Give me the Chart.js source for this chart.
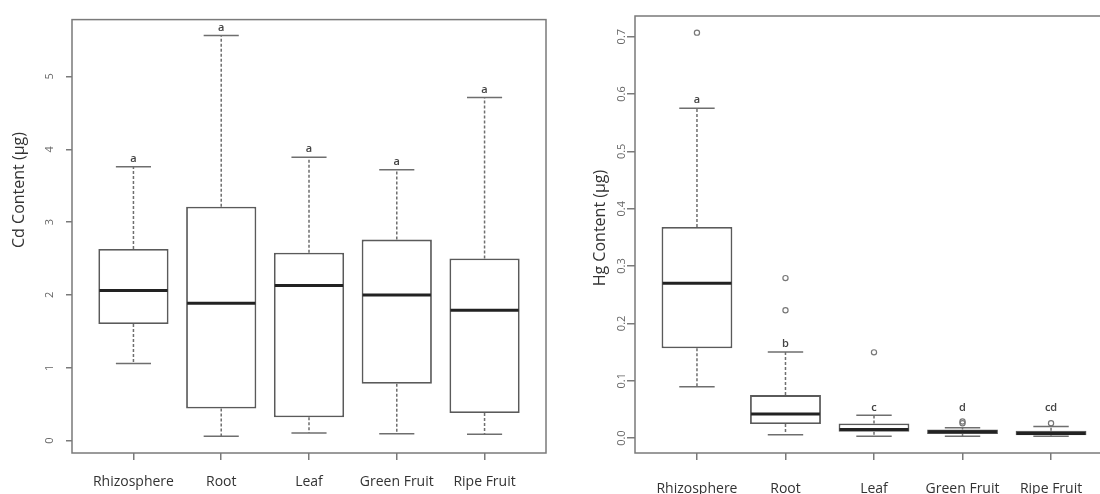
<!DOCTYPE html>
<html>
<head>
<meta charset="utf-8">
<script src="https://cdn.jsdelivr.net/npm/chart.js@4.4.0/dist/chart.umd.min.js"></script>
<style>
  body { margin: 0; background: #fff; overflow: hidden; width: 1100px; height: 494px; position: relative; }
  #cdWrap { position: absolute; left: 0; top: 0; width: 550px; height: 494px; }
  #hgWrap { position: absolute; left: 550px; top: 0; width: 580px; height: 494px; }
</style>
</head>
<body>
<div id="cdWrap"><canvas id="cdChart"></canvas></div>
<div id="hgWrap"><canvas id="hgChart"></canvas></div>
<script>
const categories = ['Rhizosphere', 'Root', 'Leaf', 'Green Fruit', 'Ripe Fruit'];

// Cd content (µg)
const cdMin    = [1.06, 0.06, 0.105, 0.095, 0.086];
const cdQ1     = [1.60, 0.44, 0.32, 0.78, 0.38];
const cdMedian = [2.06, 1.885, 2.13, 2.00, 1.79];
const cdQ3     = [2.63, 3.21, 2.58, 2.76, 2.50];
const cdMax    = [3.76, 5.56, 3.89, 3.72, 4.71];
const cdOutliers = [[], [], [], [], []];
const cdLetters = ['a', 'a', 'a', 'a', 'a'];
const cdLetterAt = [3.87, 5.67, 4.00, 3.83, 4.82];
const cdTicks = [0, 1, 2, 3, 4, 5];

// Hg content (µg)
const hgMin    = [0.0896, 0.006, 0.003, 0.003, 0.003];
const hgQ1     = [0.1565, 0.0244, 0.011, 0.007, 0.005];
const hgMedian = [0.270, 0.042, 0.015, 0.011, 0.008];
const hgQ3     = [0.368, 0.075, 0.0256, 0.015, 0.0127];
const hgMax    = [0.575, 0.150, 0.040, 0.018, 0.020];
const hgOutliers = [[0.707], [0.279, 0.223], [0.1495], [0.026, 0.029], [0.026]];
const hgLetters = ['a', 'b', 'c', 'd', 'cd'];
const hgLetterAt = [0.589, 0.164, 0.053, 0.053, 0.052];
const hgTicks = [0, 0.1, 0.2, 0.3, 0.4, 0.5, 0.6, 0.7];

const FONT = "'Open Sans', 'Noto Sans', sans-serif";

const boxplotPlugin = {
  id: 'boxplot',
  afterDatasetsDraw(chart, args, opts) {
    const { ctx, scales: { x, y } } = chart;
    const bars = chart.getDatasetMeta(0).data;
    const line = (x1, y1, x2, y2) => { ctx.beginPath(); ctx.moveTo(x1, y1); ctx.lineTo(x2, y2); ctx.stroke(); };
    ctx.save();
    opts.min.forEach((lo, i) => {
      const cx = x.getPixelForValue(i + 1);
      const half = bars[i].width / 2;
      const cap = half / 2;
      ctx.strokeStyle = '#6e6e6e';
      ctx.lineWidth = 1.5;
      ctx.setLineDash([3, 2]);
      line(cx, y.getPixelForValue(opts.q3[i]), cx, y.getPixelForValue(opts.max[i]));
      line(cx, y.getPixelForValue(opts.q1[i]), cx, y.getPixelForValue(lo));
      ctx.setLineDash([]);
      line(cx - cap, y.getPixelForValue(opts.max[i]), cx + cap, y.getPixelForValue(opts.max[i]));
      line(cx - cap, y.getPixelForValue(lo), cx + cap, y.getPixelForValue(lo));
      ctx.strokeStyle = '#222';
      ctx.lineWidth = 3;
      line(cx - half + 1, y.getPixelForValue(opts.median[i]), cx + half - 1, y.getPixelForValue(opts.median[i]));
      ctx.fillStyle = '#444';
      ctx.font = '600 11px ' + FONT;
      ctx.textAlign = 'center';
      ctx.textBaseline = 'middle';
      ctx.fillText(opts.letters[i], cx, y.getPixelForValue(opts.letterAt[i]));
    });
    // frame
    const a = chart.chartArea;
    ctx.strokeStyle = '#7a7a7a';
    ctx.lineWidth = 1.5;
    ctx.strokeRect(a.left, a.top, a.right - a.left, a.bottom - a.top);
    // axis title
    ctx.save();
    ctx.translate(opts.titleX, opts.titleY);
    ctx.rotate(-Math.PI / 2);
    ctx.fillStyle = '#333';
    ctx.font = '16px ' + FONT;
    ctx.textAlign = 'center';
    ctx.textBaseline = 'middle';
    ctx.fillText(opts.title, 0, 0);
    ctx.restore();
    ctx.restore();
  }
};

function makeChart(id, s) {
  const boxData = categories.map((c, i) => ({ x: i + 1, y: [s.q1[i], s.q3[i]] }));
  const outlierData = [];
  s.outliers.forEach((list, i) => list.forEach(v => outlierData.push({ x: i + 1, y: v })));
  return new Chart(document.getElementById(id), {
    type: 'bar',
    data: {
      datasets: [{
        type: 'bar',
        data: boxData,
        backgroundColor: '#fff',
        borderColor: '#5a5a5a',
        borderWidth: 1.8,
        borderSkipped: false,
        barPercentage: 0.8,
        categoryPercentage: 1
      }, {
        type: 'scatter',
        data: outlierData,
        pointStyle: 'circle',
        pointRadius: 2.6,
        borderColor: '#777',
        backgroundColor: 'rgba(0,0,0,0)',
        borderWidth: 1.2
      }]
    },
    options: {
      responsive: true,
      maintainAspectRatio: false,
      animation: false,
      layout: { padding: { left: 0, top: s.top, right: s.right, bottom: 0 } },
      plugins: {
        legend: { display: false },
        tooltip: { enabled: false },
        boxplot: {
          min: s.min, q1: s.q1, median: s.median, q3: s.q3, max: s.max,
          letters: s.letters, letterAt: s.letterAt,
          title: s.title, titleX: s.titleX, titleY: s.titleY
        }
      },
      scales: {
        x: {
          type: 'linear',
          offset: false,
          min: 0.3,
          max: 5.7,
          afterBuildTicks: sc => { sc.ticks = categories.map((c, i) => ({ value: i + 1 })); },
          afterFit: sc => { sc.height = 41; },
          grid: { offset: false, drawOnChartArea: false, drawTicks: true, tickLength: 7, tickColor: '#7a7a7a', lineWidth: 1.5 },
          border: { display: false },
          ticks: {
            autoSkip: false,
            maxRotation: 0,
            padding: s.xPad,
            color: '#333',
            font: { family: FONT, size: 14 },
            callback: v => categories[v - 1]
          }
        },
        y: {
          type: 'linear',
          min: s.yMin,
          max: s.yMax,
          afterBuildTicks: sc => { sc.ticks = s.ticks.map(v => ({ value: v })); },
          afterFit: sc => { sc.width = s.axisW; },
          grid: { drawOnChartArea: false, drawTicks: true, tickLength: s.tickLen, tickColor: '#7a7a7a', lineWidth: 1.5 },
          border: { display: false },
          ticks: {
            minRotation: 90,
            maxRotation: 90,
            crossAlign: 'center',
            padding: s.yPad,
            color: '#666',
            font: { family: FONT, size: 11 },
            callback: s.fmt
          }
        }
      }
    },
    plugins: [boxplotPlugin]
  });
}

makeChart('cdChart', {
  min: cdMin, q1: cdQ1, median: cdMedian, q3: cdQ3, max: cdMax, outliers: cdOutliers,
  letters: cdLetters, letterAt: cdLetterAt, ticks: cdTicks,
  yMin: -0.17, yMax: 5.78, top: 17, right: 4, axisW: 72, tickLen: 6, yPad: 13, xPad: 14,
  title: 'Cd Content (µg)', titleX: 19, titleY: 190,
  fmt: v => String(v)
});

makeChart('hgChart', {
  min: hgMin, q1: hgQ1, median: hgMedian, q3: hgQ3, max: hgMax, outliers: hgOutliers,
  letters: hgLetters, letterAt: hgLetterAt, ticks: hgTicks,
  yMin: -0.026, yMax: 0.736, top: 16, right: 17, axisW: 85, tickLen: 8, yPad: -3, xPad: 21,
  title: 'Hg Content (µg)', titleX: 50, titleY: 228,
  fmt: v => v.toFixed(1)
});
</script>
</body>
</html>
